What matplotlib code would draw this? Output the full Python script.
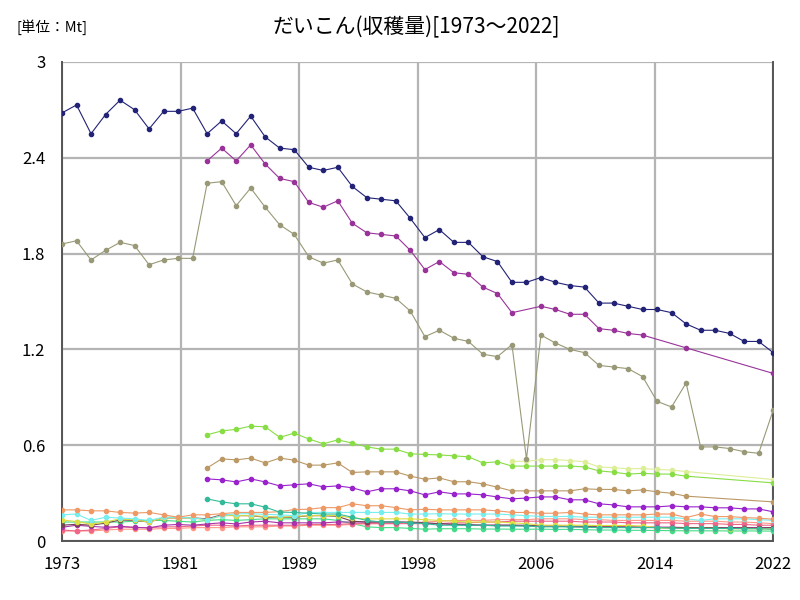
import numpy as np
import matplotlib
matplotlib.use("Agg")
import matplotlib.pyplot as plt

plt.rcParams['font.family'] = ['Noto Sans CJK JP', 'DejaVu Sans']

N = None
years = list(range(1973, 2023))

# series values in Mt (None = no data that year)
navy = [2.68, 2.73, 2.55, 2.67, 2.76, 2.70, 2.58, 2.69, 2.69, 2.71,
        2.55, 2.63, 2.55, 2.66, 2.53, 2.46, 2.45, 2.34, 2.32, 2.34,
        2.22, 2.15, 2.14, 2.13, 2.02, 1.90, 1.95, 1.87, 1.87, 1.78,
        1.75, 1.62, 1.62, 1.65, 1.62, 1.60, 1.59, 1.49, 1.49, 1.47,
        1.45, 1.45, 1.43, 1.36, 1.32, 1.32, 1.30, 1.25, 1.25, 1.18]
magenta = [N] * 10 + [2.38, 2.46, 2.38, 2.48, 2.36, 2.27, 2.25, 2.12, 2.09, 2.13,
                      1.99, 1.93, 1.92, 1.91, 1.82, 1.70, 1.75, 1.68, 1.67, 1.59,
                      1.55, 1.43] + [N] + [1.47, 1.45, 1.42, 1.42, 1.33, 1.32, 1.30, 1.29] \
    + [N, N, 1.21] + [N] * 5 + [1.05]
olive = [1.86, 1.88, 1.76, 1.82, 1.87, 1.85, 1.73, 1.76, 1.77, 1.77,
         2.24, 2.25, 2.10, 2.21, 2.09, 1.98, 1.92, 1.78, 1.74, 1.76,
         1.61, 1.56, 1.54, 1.52, 1.44, 1.28, 1.32, 1.27, 1.25, 1.17,
         1.155, 1.23, 0.515, 1.29, 1.24, 1.20, 1.18, 1.10, 1.09, 1.08,
         1.03, 0.875, 0.84, 0.99, 0.59, 0.59, 0.58, 0.56, 0.55, 0.82]
lime = [N] * 10 + [0.666, 0.69, 0.70, 0.72, 0.716, 0.65, 0.676, 0.64, 0.61, 0.634,
                   0.614, 0.59, 0.576, 0.576, 0.547, 0.543, 0.54, 0.534, 0.528, 0.49,
                   0.497, 0.47, 0.47, 0.47, 0.47, 0.47, 0.465, 0.44, 0.432, 0.42,
                   0.425, 0.42, 0.42, 0.407] + [N] * 5 + [0.365]
pale = [N] * 31 + [0.50, 0.50, 0.51, 0.51, 0.505, 0.497, 0.465, 0.46, 0.453, 0.455,
                   0.449, 0.445, 0.436] + [N] * 5 + [0.386]
tan = [N] * 10 + [0.459, 0.515, 0.509, 0.52, 0.49, 0.52, 0.507, 0.476, 0.476, 0.49,
                  0.43, 0.434, 0.434, 0.434, 0.407, 0.388, 0.396, 0.372, 0.372, 0.359,
                  0.338, 0.315, 0.315, 0.315, 0.315, 0.315, 0.328, 0.324, 0.324, 0.315,
                  0.321, 0.309, 0.30, 0.282] + [N] * 5 + [0.246]
violet = [N] * 10 + [0.39, 0.384, 0.371, 0.39, 0.371, 0.346, 0.353, 0.359, 0.34, 0.346,
                     0.334, 0.309, 0.328, 0.328, 0.315, 0.29, 0.309, 0.296, 0.296, 0.29,
                     0.277, 0.265, 0.27, 0.277, 0.277, 0.259, 0.259, 0.234, 0.227, 0.215,
                     0.215, 0.215, 0.221, 0.215, 0.215, 0.209, 0.209, 0.202, 0.202, 0.184]
teal = [N] * 10 + [0.265, 0.246, 0.234, 0.234, 0.213, 0.182, 0.18, 0.175, 0.17, 0.17,
                   0.15, 0.13, 0.12, 0.12, 0.115, 0.11, 0.10, 0.10, 0.10, 0.10,
                   0.095, 0.095, 0.095, 0.09, 0.09, 0.09, 0.088, 0.085, 0.085, 0.085,
                   0.085, 0.085, 0.082, 0.08, 0.08, 0.08, 0.08, 0.078, 0.078, 0.075]
orange = [0.196, 0.196, 0.19, 0.19, 0.18, 0.176, 0.18, 0.165, 0.15, 0.165, 0.165, 0.172,
          0.18, 0.18, 0.18, 0.185, 0.198,
          0.20, 0.21, 0.21, 0.234, 0.222, 0.222, 0.21, 0.196, 0.20, 0.196, 0.196, 0.196,
          0.196, 0.19, 0.18, 0.18,
          0.175, 0.175, 0.18, 0.17, 0.165, 0.165, 0.165, 0.165, 0.17, 0.17, 0.148, 0.17,
          0.154, 0.154, 0.148, 0.144, 0.138]
cyan = [0.165, 0.17, 0.13, 0.15, 0.145, 0.14, 0.13, 0.15, 0.15, 0.145, 0.135, 0.16,
        0.172, 0.172, 0.168, 0.165, 0.16,
        0.18, 0.18, 0.18, 0.18, 0.18, 0.18, 0.18, 0.17, 0.17, 0.172, 0.17, 0.17, 0.17,
        0.17, 0.165, 0.16,
        0.155, 0.155, 0.155, 0.15, 0.15, 0.15, 0.15, 0.15, 0.15, 0.15, 0.14, 0.13, 0.14,
        0.14, 0.14, 0.135, 0.13]
yellow = [0.133, 0.123, 0.106, 0.12, 0.14, 0.133, 0.12, 0.146, 0.146, 0.146, 0.133, 0.16,
          0.16, 0.16, 0.155, 0.15, 0.155,
          0.16, 0.16, 0.16, 0.145, 0.14, 0.14, 0.14, 0.14, 0.135, 0.13, 0.125, 0.12, 0.12,
          0.12, 0.115, 0.11,
          0.10, 0.10, 0.10, 0.10, 0.098, 0.098, 0.098, 0.095, 0.085, 0.08, 0.08, 0.08, 0.08,
          0.078, 0.078, 0.078, 0.076]
maroon = [0.10, 0.106, 0.10, 0.113, 0.133, 0.13, 0.12, 0.146, 0.146, 0.146, 0.14, 0.165,
          0.16, 0.16, 0.15, 0.15, 0.15,
          0.16, 0.16, 0.155, 0.125, 0.12, 0.12, 0.12, 0.12, 0.115, 0.11, 0.105, 0.10, 0.10,
          0.10, 0.10, 0.10,
          0.095, 0.095, 0.095, 0.092, 0.09, 0.09, 0.088, 0.088, 0.085, 0.085, 0.085, 0.085,
          0.085, 0.083, 0.083, 0.082, 0.085]
orchid = [0.087, 0.10, 0.093, 0.087, 0.093, 0.087, 0.083, 0.10, 0.105, 0.10, 0.108, 0.115,
          0.108, 0.12, 0.125, 0.115, 0.115,
          0.115, 0.115, 0.12, 0.12, 0.12, 0.12, 0.12, 0.115, 0.11, 0.11, 0.105, 0.105, 0.10,
          0.10, 0.10, 0.095,
          0.095, 0.095, 0.09, 0.09, 0.09, 0.09, 0.09, 0.088, 0.088, 0.088, 0.085, 0.085,
          0.085, 0.085, 0.085, 0.085, 0.085]
pink = [0.07, 0.064, 0.07, 0.08, 0.09, 0.085, 0.085, 0.09, 0.09, 0.095, 0.10, 0.10,
        0.095, 0.10, 0.10, 0.10, 0.10,
        0.105, 0.105, 0.105, 0.11, 0.11, 0.11, 0.11, 0.11, 0.11, 0.11, 0.115, 0.115, 0.12,
        0.12, 0.125, 0.125,
        0.125, 0.125, 0.125, 0.12, 0.12, 0.12, 0.115, 0.115, 0.115, 0.115, 0.11, 0.11,
        0.11, 0.105, 0.105, 0.10, 0.10]
salmon = [0.064, 0.064, 0.064, 0.07, 0.075, 0.075, 0.075, 0.08, 0.08, 0.085, 0.085, 0.085,
          0.09, 0.09, 0.09, 0.095, 0.095,
          0.10, 0.10, 0.10, 0.105, 0.11, 0.11, 0.11, 0.115, 0.12, 0.125, 0.13, 0.13, 0.13,
          0.135, 0.135, 0.135,
          0.14, 0.14, 0.14, 0.135, 0.135, 0.13, 0.13, 0.13, 0.13, 0.13, 0.125, 0.125,
          0.125, 0.12, 0.12, 0.115, 0.11]
green = [0.12, 0.12, 0.12, 0.12, 0.12, 0.125, 0.13, 0.13, 0.125, 0.12, 0.13, 0.135,
         0.13, 0.135, 0.14, 0.14, 0.14,
         0.14, 0.14, 0.13, 0.11, 0.09, 0.085, 0.085, 0.08, 0.075, 0.078, 0.078, 0.078,
         0.076, 0.076, 0.075, 0.075,
         0.075, 0.074, 0.074, 0.072, 0.07, 0.07, 0.068, 0.068, 0.067, 0.066, 0.065, 0.065,
         0.065, 0.064, 0.064, 0.064, 0.063]

series = [
    (green, '#44dd88'), (salmon, '#ff9988'), (pink, '#ee6688'), (orchid, '#aa33aa'),
    (maroon, '#774455'), (yellow, '#dddd44'), (cyan, '#77eeee'), (orange, '#ee9966'),
    (teal, '#33bb99'), (violet, '#9922cc'), (tan, '#bb9966'), (pale, '#ddee99'),
    (lime, '#88dd44'), (olive, '#999977'), (magenta, '#993399'), (navy, '#222277'),
]

fig = plt.figure(figsize=(8, 6), dpi=100)
ax = fig.add_axes([0.0775, 0.098, 0.889, 0.799])

for vals, col in series:
    x = [y for y, v in zip(years, vals) if v is not None]
    y = [v for v in vals if v is not None]
    ax.plot(x, y, color=col, lw=0.8, marker='o', ms=3.0, zorder=3)

ax.set_xlim(1973, 2022)
ax.set_ylim(0, 3)
xt = np.linspace(1973, 2022, 7)
ax.set_xticks(xt)
ax.set_xticklabels([str(int(round(v + 1e-6))) for v in xt])
yt = [0, 0.6, 1.2, 1.8, 2.4, 3]
ax.set_yticks(yt)
ax.set_yticklabels(['0', '0.6', '1.2', '1.8', '2.4', '3'])
ax.tick_params(axis='x', length=0, labelsize=12, pad=11)
ax.tick_params(axis='y', length=0, labelsize=12, pad=12)
ax.grid(True, color='#b4b4b4', lw=1.6, zorder=0)
for s in ['left', 'bottom', 'right']:
    ax.spines[s].set_color('#555555')
    ax.spines[s].set_linewidth(1.4)
ax.spines['top'].set_visible(False)

fig.text(0.52, 0.955, 'だいこん(収穫量)[1973～2022]', ha='center', va='center', fontsize=15)
fig.text(0.02, 0.955, '[単位：Mt]', ha='left', va='center', fontsize=10.5)

fig.savefig('out.png', dpi=100)
